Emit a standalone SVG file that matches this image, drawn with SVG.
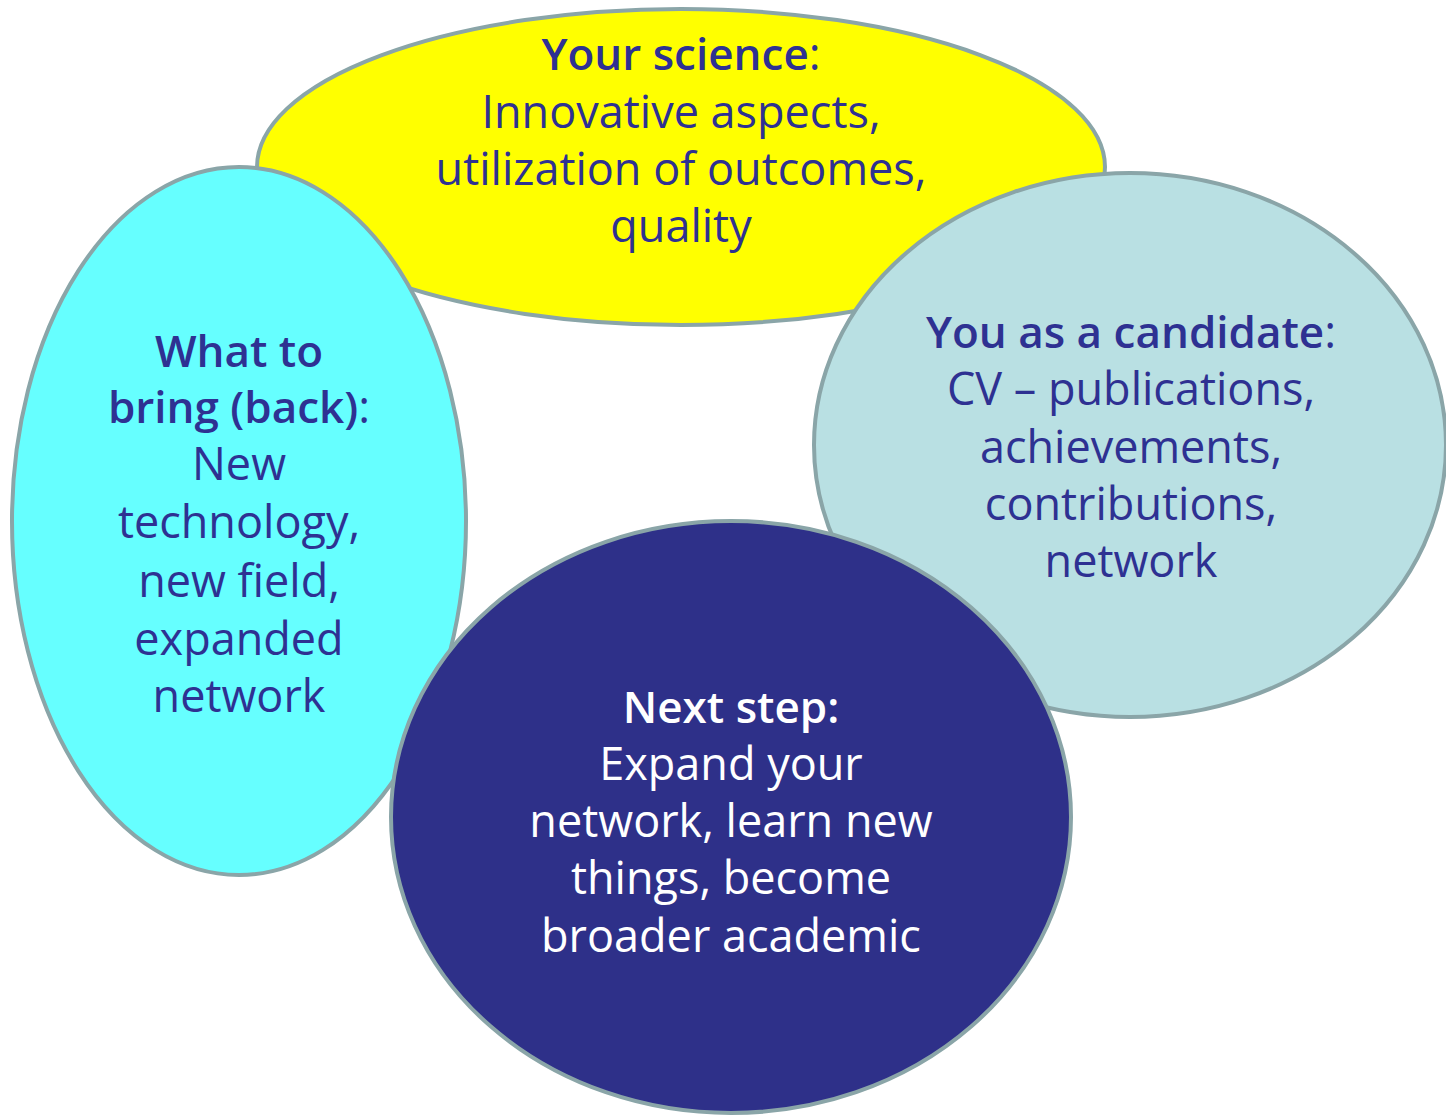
<svg xmlns="http://www.w3.org/2000/svg" width="1446" height="1117" viewBox="0 0 1446 1117">
<style>
.shape{stroke:#8aa5a8;stroke-width:4}
text{font-family:"Open Sans","Noto Sans","DejaVu Sans",sans-serif;font-size:45px;text-anchor:middle;fill:#2e3192}
.b{font-weight:600;font-size:44px}
.w{fill:#ffffff}
</style>
<rect width="1446" height="1117" fill="#ffffff"/>
<g id="node-science">
<ellipse class="shape" cx="681" cy="167" rx="424" ry="158" fill="#ffff00"/>
<text x="681" y="70"><tspan class="b">Your science</tspan>:</text>
<text x="681" y="128">Innovative aspects,</text>
<text x="681" y="185">utilization of outcomes,</text>
<text x="681" y="242">quality</text>
</g>
<g id="node-candidate">
<ellipse class="shape" cx="1130" cy="445" rx="316" ry="272" fill="#b9e0e3"/>
<text x="1131" y="348"><tspan class="b">You as a candidate</tspan>:</text>
<text x="1131" y="405">CV – publications,</text>
<text x="1131" y="463">achievements,</text>
<text x="1131" y="520">contributions,</text>
<text x="1131" y="577">network</text>
</g>
<g id="node-bring">
<ellipse class="shape" cx="239" cy="521" rx="227" ry="354" fill="#66ffff"/>
<text x="239" y="367" class="b">What to</text>
<text x="239" y="423"><tspan class="b">bring (back)</tspan>:</text>
<text x="239" y="480">New</text>
<text x="239" y="538">technology,</text>
<text x="239" y="597">new field,</text>
<text x="239" y="655">expanded</text>
<text x="239" y="712">network</text>
</g>
<g id="node-next">
<ellipse class="shape" cx="731" cy="817" rx="340" ry="296" fill="#2e3089"/>
<text x="731" y="723" class="b w">Next step:</text>
<text x="731" y="780" class="w">Expand your</text>
<text x="731" y="837" class="w">network, learn new</text>
<text x="731" y="894" class="w">things, become</text>
<text x="731" y="952" class="w">broader academic</text>
</g>
<g id="connectors"></g>
</svg>
